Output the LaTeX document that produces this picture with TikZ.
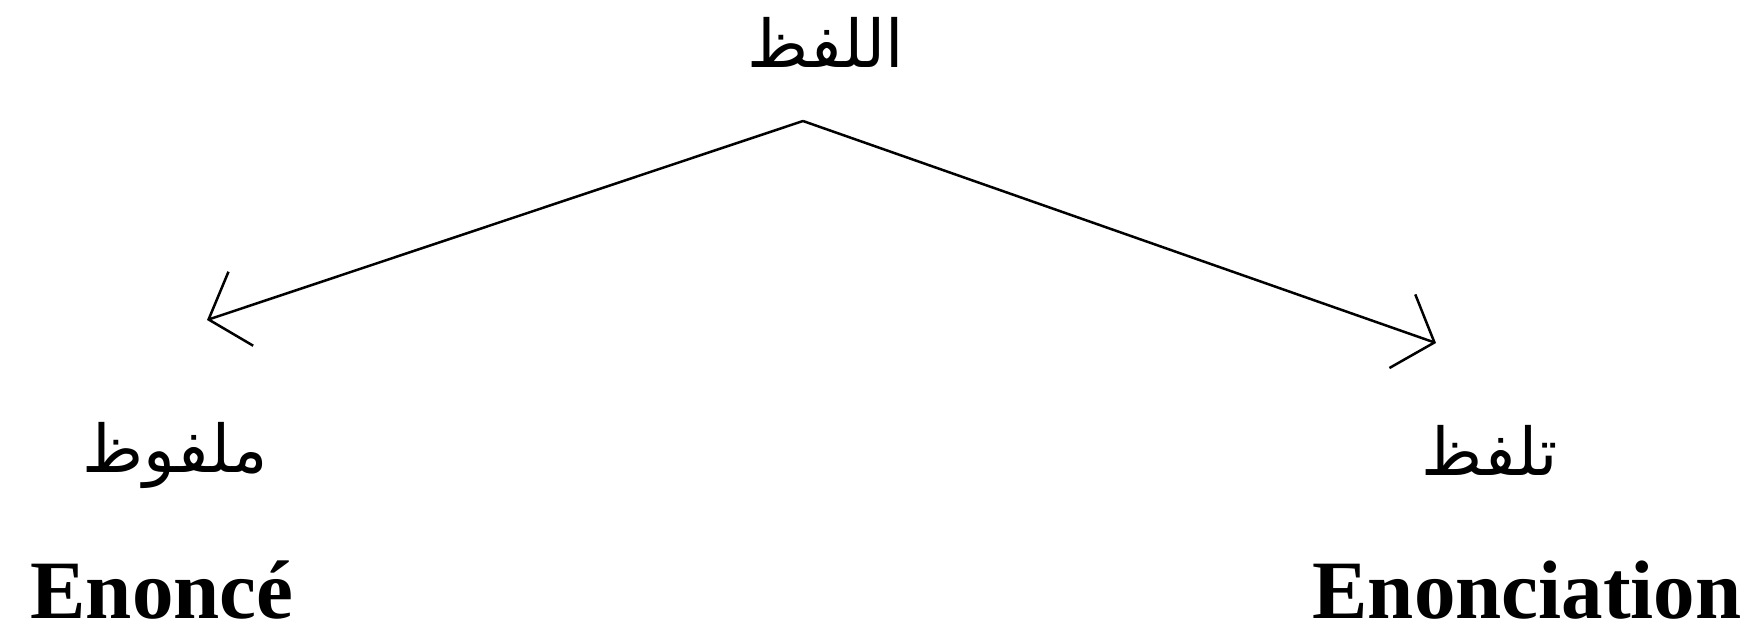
\documentclass[tikz,border=0pt]{standalone}
\usepackage{fontspec}
\setmainfont{Liberation Serif}
\newfontfamily\arabicfont[Script=Arabic]{DejaVu Sans}
\TeXXeTstate=1
\usetikzlibrary{arrows.meta}
\tikzset{
  ar/.style={font=\arabicfont\fontsize{66}{72}\selectfont, inner sep=0pt},
  en/.style={font=\bfseries\fontsize{83}{90}\selectfont, inner sep=0pt, anchor=base},
  link/.style={line width=2.5pt, -{Straight Barb[length=34pt,width=78pt,line width=2.5pt]}}
}
\begin{document}
\begin{tikzpicture}[x=1pt,y=-1pt]
\useasboundingbox (0,0) rectangle (1748,640);
\node[ar] (top) at (826,42) {\beginR اللفظ\endR};
\node[ar] (l) at (175,455) {\beginR ملفوظ\endR};
\node[ar] (r) at (1490,450) {\beginR تلفظ\endR};
\node[en] (le) at (162,618) {Enoncé};
\node[en] (re) at (1527,618) {Enonciation};
\coordinate (apex) at (803,121);
\coordinate (ltip) at (207,320);
\coordinate (rtip) at (1436,343);
\draw[link] (apex) -- (ltip);
\draw[link] (apex) -- (rtip);
\end{tikzpicture}
\end{document}
